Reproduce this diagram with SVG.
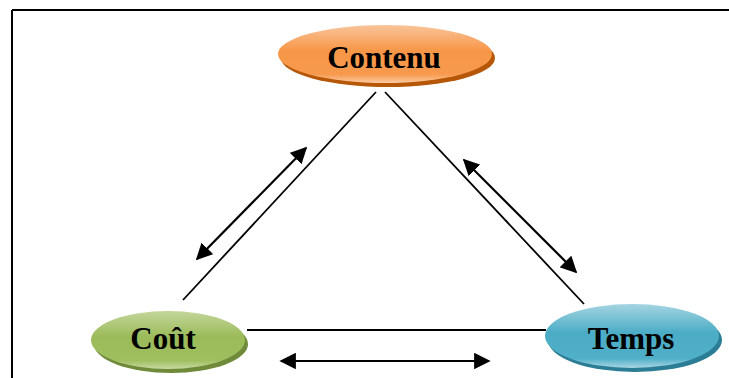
<svg xmlns="http://www.w3.org/2000/svg" width="729" height="378" viewBox="0 0 729 378">
<defs>
<linearGradient id="gO" x1="0" y1="0" x2="0" y2="1">
<stop offset="0" stop-color="#f9c49a"/><stop offset="0.45" stop-color="#f79646"/><stop offset="0.85" stop-color="#f79a4e"/><stop offset="1" stop-color="#fbc9a0"/>
</linearGradient>
<linearGradient id="gG" x1="0" y1="0" x2="0" y2="1">
<stop offset="0" stop-color="#c3d69b"/><stop offset="0.45" stop-color="#9bbb59"/><stop offset="0.85" stop-color="#9fbe5f"/><stop offset="1" stop-color="#c6d9a0"/>
</linearGradient>
<linearGradient id="gB" x1="0" y1="0" x2="0" y2="1">
<stop offset="0" stop-color="#a5d5e2"/><stop offset="0.45" stop-color="#4bacc6"/><stop offset="0.85" stop-color="#50afc8"/><stop offset="1" stop-color="#a8d6e3"/>
</linearGradient>
<marker id="ah" viewBox="0 0 10 10" refX="9" refY="5" markerWidth="7.5" markerHeight="7.5" markerUnits="strokeWidth" orient="auto-start-reverse">
<path d="M0,0 L10,5 L0,10 z" fill="#000"/>
</marker>
<style>
.lbl{font-family:"Liberation Serif","Times New Roman",serif;font-weight:bold;font-size:31px;fill:#000;text-anchor:middle}
.ln{stroke:#000;stroke-width:1.8;fill:none}
.ar{stroke:#000;stroke-width:2.2;fill:none;marker-start:url(#ah);marker-end:url(#ah)}
</style>
</defs>
<g id="frame">
<line x1="12" y1="10" x2="729" y2="10" stroke="#000" stroke-width="2"/>
<line x1="12" y1="10" x2="12" y2="378" stroke="#000" stroke-width="2"/>
</g>
<g id="connectors">
<line class="ln" x1="376" y1="92" x2="183" y2="300"/>
<line class="ln" x1="385" y1="92" x2="584" y2="304"/>
<line class="ln" x1="247" y1="330" x2="546" y2="330"/>
<line class="ar" x1="197" y1="259" x2="306" y2="148"/>
<line class="ar" x1="464" y1="160" x2="576" y2="272"/>
<line class="ar" x1="281" y1="361" x2="489" y2="361"/>
</g>
<g id="contenu">
<ellipse cx="388" cy="58" rx="107" ry="29" fill="#b65708"/>
<ellipse cx="385" cy="54" rx="107" ry="29" fill="url(#gO)"/>
<text class="lbl" x="384" y="68">Contenu</text>
</g>
<g id="cout">
<ellipse cx="171" cy="344" rx="77" ry="29" fill="#6f8a38"/>
<ellipse cx="168" cy="340" rx="77" ry="29" fill="url(#gG)"/>
<text class="lbl" x="163" y="349">Coût</text>
</g>
<g id="temps">
<ellipse cx="635" cy="340" rx="87" ry="32" fill="#2a7d94"/>
<ellipse cx="632" cy="336" rx="87" ry="32" fill="url(#gB)"/>
<text class="lbl" x="631" y="349">Temps</text>
</g>
</svg>
